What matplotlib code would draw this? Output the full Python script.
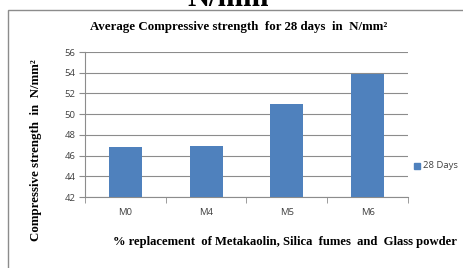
import numpy as np
from matplotlib import pyplot as plt
from matplotlib.patches import Rectangle

categories = ['M0', 'M4', 'M5', 'M6']
strength_28 = [46.8, 46.9, 51.0, 53.9]
y_ticks = [42, 44, 46, 48, 50, 52, 54, 56]

W, H = 464, 268
fig = plt.figure(figsize=(W / 100, H / 100), dpi=100)

def fx(px):
    return px / W

def fy(py):
    return 1 - py / H

# chart border (cut off at right / bottom)
fig.patches.append(Rectangle((fx(8), fy(300)), 1.2, fy(10) - fy(300),
                             transform=fig.transFigure, fill=False,
                             edgecolor='#8c8c8c', linewidth=1.0))

# big heading cut off at the top of the picture
fig.text(fx(228), fy(6), 'N/mm', ha='center', va='baseline', fontsize=22,
         fontweight='bold', family='Liberation Serif', color='black')

ax = fig.add_axes([fx(85), fy(197), fx(408) - fx(85), fy(52) - fy(197)])
x = np.arange(len(categories))
ax.bar(x, strength_28, width=0.41, bottom=0, color='#4F81BD', zorder=3)
ax.set_xlim(-0.5, len(categories) - 0.5)
ax.set_ylim(42, 56)
ax.set_yticks(y_ticks)
ax.set_xticks(x)
ax.set_xticklabels(categories)
ax.set_xticks(np.arange(len(categories) + 1) - 0.5, minor=True)
ax.tick_params(axis='x', which='major', length=0, pad=8)
ax.tick_params(axis='x', which='minor', length=4, color='#8c8c8c', direction='out')
ax.tick_params(axis='y', length=4, color='#8c8c8c', direction='out', pad=3)
for lab in ax.get_xticklabels() + ax.get_yticklabels():
    lab.set_fontsize(6.8)
    lab.set_family('Open Sans')
    lab.set_color('#404040')
ax.yaxis.grid(True, color='#8c8c8c', linewidth=0.8, zorder=0)
for s in ['top', 'right']:
    ax.spines[s].set_visible(False)
ax.spines['left'].set_color('#8c8c8c')
ax.spines['bottom'].set_color('#8c8c8c')

fig.text(fx(239), fy(27), 'Average Compressive strength  for 28 days  in  N/mm²',
         ha='center', va='center', fontsize=9.3, fontweight='bold',
         family='Liberation Serif')
fig.text(fx(36), fy(150), 'Compressive strength  in  N/mm²', rotation=90,
         ha='center', va='center', fontsize=9.3, fontweight='bold',
         family='Liberation Serif')
fig.text(fx(113), fy(242), '% replacement  of Metakaolin, Silica  fumes  and  Glass powder',
         ha='left', va='center', fontsize=9.1, fontweight='bold',
         family='Liberation Serif')

# legend
fig.patches.append(Rectangle((fx(414), fy(169)), fx(6), fy(163) - fy(169),
                             transform=fig.transFigure, color='#4F81BD'))
fig.text(fx(423), fy(166), '28 Days', ha='left', va='center', fontsize=6.8,
         family='Open Sans', color='#404040')

fig.savefig('out.png', dpi=100)
